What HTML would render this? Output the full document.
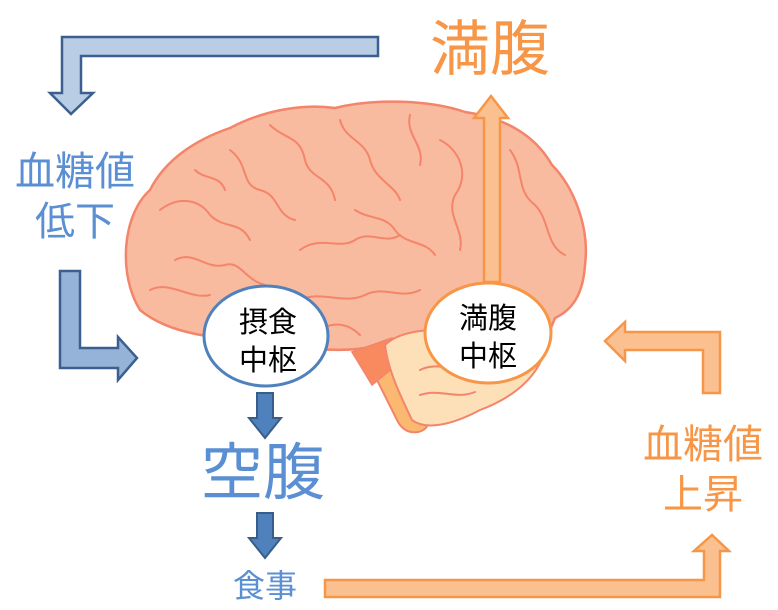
<!DOCTYPE html>
<html><head><meta charset="utf-8"><style>
html,body{margin:0;padding:0;background:#fff;}
svg{display:block}
text{font-family:"Liberation Sans","Noto Sans CJK JP",sans-serif;}
</style></head><body>
<svg width="778" height="610" viewBox="0 0 778 610" xmlns="http://www.w3.org/2000/svg">
<path d="M378,37 L62,37 L62,93 L50,93 L71,114 L93,93 L81,93 L81,56 L378,56 Z" fill="#b9cde5" stroke="#3b5f8f" stroke-width="2.5"/>
<path d="M60,271 L80,271 L80,348 L118,348 L118,337 L137,358 L118,380 L118,368 L60,368 Z" fill="#95b3d7" stroke="#3b5f8f" stroke-width="2.5"/>
<path d="M720,393 L703,393 L703,350 L625,350 L625,361 L605,341 L625,322 L625,332 L720,332 Z" fill="#fac090" stroke="#f79646" stroke-width="2.5"/>
<path d="M325,580 L704,580 L704,551 L694,551 L712,535 L729,551 L720,551 L720,597 L325,597 Z" fill="#fac090" stroke="#f79646" stroke-width="2.5"/>

<!-- brain -->
<path d="M140,310 C118,275 122,215 150,190 C165,160 195,140 230,128 C260,112 300,103 335,108 C375,98 430,100 465,112 C505,118 535,135 552,165 C572,185 590,225 585,265 C583,295 572,310 555,318 L548,335 C540,345 520,350 500,352 L380,345 C340,355 300,348 270,340 C220,340 170,335 140,310 Z" fill="#f9bba0" stroke="#f4846a" stroke-width="2.5"/>
<!-- brainstem -->
<path d="M372,370 L395,358 L425,405 Q435,428 418,432 Q405,434 398,422 Z" fill="#fbb870" stroke="#f4846a" stroke-width="2"/>
<path d="M352,352 L392,338 L400,362 L372,385 Z" fill="#f98a60" stroke="#f4846a" stroke-width="1.5"/>
<!-- cerebellum -->
<path d="M385,345 C400,330 440,325 480,335 C520,345 545,345 548,335 C545,370 520,395 480,410 C450,426 425,430 412,420 C400,395 388,370 385,345 Z" fill="#fde0b8" stroke="#f4846a" stroke-width="2"/>
<g fill="none" stroke="#f4846a" stroke-width="2" stroke-linecap="round">
<path d="M160,210 C180,195 200,200 210,215 C225,230 240,220 250,240"/>
<path d="M175,260 C195,250 205,270 225,265 C240,260 245,280 265,285"/>
<path d="M150,290 C170,280 190,300 210,295"/>
<path d="M230,150 C250,165 240,185 260,190 C280,195 275,215 295,220"/>
<path d="M270,125 C285,140 300,135 305,160 C310,180 330,175 335,200"/>
<path d="M300,250 C320,235 340,250 355,240 C370,230 385,245 400,235"/>
<path d="M340,120 C345,140 365,140 370,160 C375,180 395,185 400,200"/>
<path d="M410,115 C405,135 425,145 420,165"/>
<path d="M440,140 C460,150 470,175 455,195 C445,215 465,230 460,250"/>
<path d="M300,300 C320,290 345,305 365,295 C385,285 400,300 420,290"/>
<path d="M320,330 C335,320 350,325 360,335"/>
<path d="M510,150 C525,170 515,190 535,205 C550,220 545,245 565,255"/>
<path d="M250,305 C260,295 275,300 285,290"/>
<path d="M355,210 C370,220 385,215 395,230 C405,245 425,240 435,255"/>
<path d="M195,170 C205,180 220,175 225,190"/>
<path d="M420,370 C440,360 460,375 480,365 C500,355 515,370 530,360"/>
<path d="M420,395 C440,388 455,400 475,392"/>
</g>
<path d="M484,282 L484,118 L474,118 L491,96 L508,118 L500,118 L500,282 Z" fill="#fac090" stroke="#f79646" stroke-width="2.5"/>
<ellipse cx="266" cy="336" rx="62" ry="50" fill="#fff" stroke="#4f81bd" stroke-width="3"/>
<ellipse cx="488" cy="333" rx="63" ry="50" fill="#fff" stroke="#f79646" stroke-width="3"/>
<text x="268" y="332" font-size="29" text-anchor="middle" fill="#000">摂食</text>
<text x="268" y="370" font-size="29" text-anchor="middle" fill="#000">中枢</text>
<text x="488" y="328" font-size="29" text-anchor="middle" fill="#000">満腹</text>
<text x="488" y="366" font-size="29" text-anchor="middle" fill="#000">中枢</text>
<path d="M257,393 L273,393 L273,418 L281,418 L265,438 L249,418 L257,418 Z" fill="#4f81bd" stroke="#385d8a" stroke-width="2"/>
<path d="M257,513 L273,513 L273,538 L281,538 L265,558 L249,538 L257,538 Z" fill="#4f81bd" stroke="#385d8a" stroke-width="2"/>
<text x="490" y="70" font-size="60" text-anchor="middle" fill="#f79646">満腹</text>
<text x="263" y="494" font-size="62" text-anchor="middle" fill="#5b8fd3">空腹</text>
<text x="265" y="597" font-size="32" text-anchor="middle" fill="#5b8fd3">食事</text>
<text x="75" y="185" font-size="40" text-anchor="middle" fill="#5b8fd3">血糖値</text>
<text x="75" y="235" font-size="40" text-anchor="middle" fill="#5b8fd3">低下</text>
<text x="703" y="458" font-size="40" text-anchor="middle" fill="#f79646">血糖値</text>
<text x="703" y="508" font-size="40" text-anchor="middle" fill="#f79646">上昇</text>
</svg>
</body></html>
